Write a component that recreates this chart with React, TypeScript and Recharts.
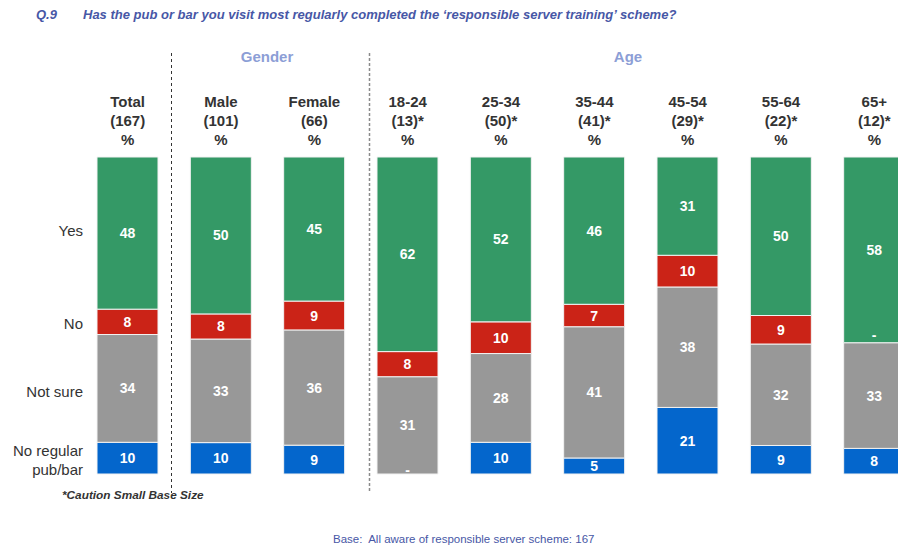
import React from "react";
import { BarChart, Bar, XAxis, YAxis, LabelList } from "recharts";

const categories = ["Total", "Male", "Female", "18-24", "25-34", "35-44", "45-54", "55-64", "65+"];
const bases = ["(167)", "(101)", "(66)", "(13)*", "(50)*", "(41)*", "(29)*", "(22)*", "(12)*"];
const noRegular = [10, 10, 9, 0, 10, 5, 21, 9, 8];
const notSure = [34, 33, 36, 31, 28, 41, 38, 32, 33];
const no = [8, 8, 9, 8, 10, 7, 10, 9, 0];
const yes = [48, 50, 45, 62, 52, 46, 31, 50, 58];

const data = categories.map((cat, i) => ({
  cat,
  base: bases[i],
  noRegular: noRegular[i],
  notSure: notSure[i],
  no: no[i],
  yes: yes[i],
}));

const FONT = "'Liberation Sans', Arial, sans-serif";

const series = [
  { key: "noRegular", color: "#0466CC" },
  { key: "notSure", color: "#989898" },
  { key: "no", color: "#CB2317" },
  { key: "yes", color: "#349966" },
];

const ValueText = ({ x, y, text }: { x: number; y: number; text: string | number }) => (
  <text
    x={x}
    y={y}
    textAnchor="middle"
    dominantBaseline="central"
    fill="#ffffff"
    fontFamily={FONT}
    fontWeight="bold"
    fontSize={14}
  >
    {text}
  </text>
);

const plainLabel = (props: any) => {
  const { x, y, width, height, value } = props;
  const v = Array.isArray(value) ? value[1] - value[0] : value;
  if (!v) return null;
  return <ValueText x={Number(x) + Number(width) / 2} y={Number(y) + Number(height) / 2} text={v} />;
};

// The "Not sure" segment is present in every column; zero-valued neighbours are marked "-" next to it.
const dashLabel = (props: any) => {
  const { x, y, width, height, index } = props;
  const cx = Number(x) + Number(width) / 2;
  const out: React.ReactNode[] = [];
  if (noRegular[index] === 0) out.push(<ValueText key="b" x={cx} y={Number(y) + Number(height) - 4} text="-" />);
  if (no[index] === 0) out.push(<ValueText key="r" x={cx} y={Number(y) - 8} text="-" />);
  return <g>{out}</g>;
};

const HeaderTick = (props: any) => {
  const { x, y, payload, index } = props;
  const lines = [payload.value, bases[index], "%"];
  return (
    <g>
      {lines.map((l, i) => (
        <text
          key={i}
          x={x}
          y={y - 48 + i * 19}
          textAnchor="middle"
          dominantBaseline="central"
          fill="#333333"
          fontFamily={FONT}
          fontWeight="bold"
          fontSize={15}
        >
          {l}
        </text>
      ))}
    </g>
  );
};

const abs = (style: React.CSSProperties): React.CSSProperties => ({
  position: "absolute",
  whiteSpace: "nowrap",
  fontFamily: FONT,
  lineHeight: 1,
  ...style,
});

export default function App() {
  return (
    <div
      style={{
        position: "fixed",
        left: 0,
        top: 0,
        width: 898,
        height: 547,
        overflow: "hidden",
        background: "#ffffff",
        fontFamily: FONT,
      }}
    >
      <div style={abs({ left: 36, top: 8, fontSize: 13, fontWeight: "bold", fontStyle: "italic", color: "#4757A6" })}>Q.9</div>
      <div style={abs({ left: 83, top: 8, fontSize: 13, fontWeight: "bold", fontStyle: "italic", color: "#4757A6" })}>
        Has the pub or bar you visit most regularly completed the ‘responsible server training’ scheme?
      </div>
      <div style={abs({ left: 227, top: 49, width: 80, textAlign: "center", fontSize: 15, fontWeight: "bold", color: "#8C9ED6" })}>Gender</div>
      <div style={abs({ left: 588, top: 49, width: 80, textAlign: "center", fontSize: 15, fontWeight: "bold", color: "#8C9ED6" })}>Age</div>

      <div style={{ position: "absolute", left: 0, top: 0 }}>
        <BarChart
          width={940}
          height={547}
          data={data}
          stackOffset="expand"
          margin={{ top: 97, right: 19, bottom: 73, left: 81 }}
          barSize={61}
        >
          <XAxis
            dataKey="cat"
            orientation="top"
            height={60}
            axisLine={false}
            tickLine={false}
            interval={0}
            tick={<HeaderTick />}
          />
          <YAxis hide domain={[0, 1]} />
          {series.map((s) => (
            <Bar
              key={s.key}
              dataKey={s.key}
              stackId="a"
              fill={s.color}
              stroke="#f2f2f2"
              strokeWidth={1}
              isAnimationActive={false}
            >
              <LabelList dataKey={s.key} content={plainLabel} />
              {s.key === "notSure" ? <LabelList dataKey={s.key} content={dashLabel} /> : null}
            </Bar>
          ))}
        </BarChart>
      </div>

      <svg width={898} height={547} style={{ position: "absolute", left: 0, top: 0, pointerEvents: "none" }}>
        <line x1={171.5} y1={53} x2={171.5} y2={493} stroke="#333333" strokeWidth={1} strokeDasharray="3 3" />
        <line x1={369.5} y1={53} x2={369.5} y2={493} stroke="#8a8a8a" strokeWidth={1.5} strokeDasharray="3 2" />
      </svg>

      <div style={abs({ left: 0, width: 83, top: 223, textAlign: "right", fontSize: 15, color: "#333333" })}>Yes</div>
      <div style={abs({ left: 0, width: 83, top: 316, textAlign: "right", fontSize: 15, color: "#333333" })}>No</div>
      <div style={abs({ left: 0, width: 83, top: 384, textAlign: "right", fontSize: 15, color: "#333333" })}>Not sure</div>
      <div style={abs({ left: 0, width: 83, top: 441, textAlign: "right", fontSize: 15, color: "#333333", lineHeight: "19px" })}>
        No regular
        <br />
        pub/bar
      </div>

      <div style={abs({ left: 62, top: 490, fontSize: 11.8, fontWeight: "bold", fontStyle: "italic", color: "#333333" })}>*Caution Small Base Size</div>
      <div style={abs({ left: 333, top: 534, fontSize: 11.5, color: "#4757A6" })}>Base:&nbsp; All aware of responsible server scheme: 167</div>
    </div>
  );
}
